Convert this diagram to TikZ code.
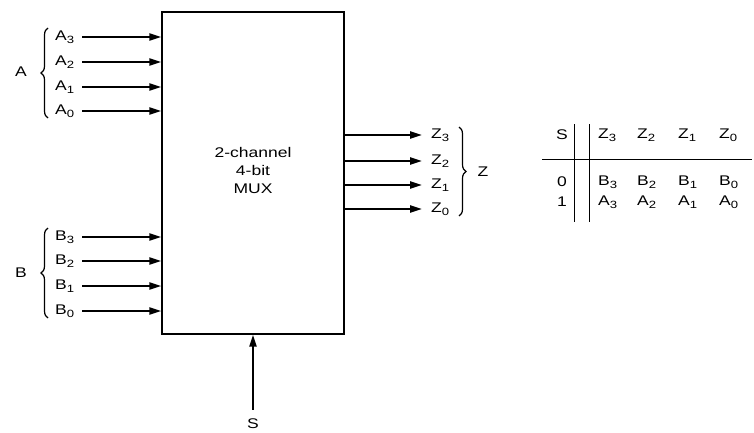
\documentclass[tikz,border=0pt]{standalone}
\usepackage{fontspec}
\setmainfont{Liberation Sans}[FakeStretch=1.25]
\usetikzlibrary{arrows.meta,decorations.pathreplacing}
\newcommand{\sig}[2]{#1\raisebox{-3.5pt}{\fontsize{10.5}{10.5}\selectfont #2}}
\begin{document}
\begin{tikzpicture}[x=1pt,y=-1pt,
  lbl/.style={font=\fontsize{14}{14}\selectfont, inner sep=0pt, anchor=west},
  txt/.style={font=\fontsize{14}{14}\selectfont, inner sep=0pt},
  sigarrow/.style={line width=2.1pt, -{Triangle[length=12pt,width=7pt]}},
  brc/.style={decorate, decoration={brace, amplitude=7pt}, line width=1.2pt},
  tline/.style={line width=0.9pt}]
\useasboundingbox (0,0) rectangle (754,433);
% mux box
\node[draw, line width=1.2pt, minimum width=182pt, minimum height=322pt, inner sep=0pt] (mux) at (253,173) {};
\node[txt, align=center] (muxtxt) at (253,170) {2-channel\\[4pt]4-bit\\[4pt]MUX};
% A inputs
\node[lbl] (a3) at (55,37) {\sig{A}{3}};
\node[lbl] (a2) at (55,62) {\sig{A}{2}};
\node[lbl] (a1) at (55,87) {\sig{A}{1}};
\node[lbl] (a0) at (55,111) {\sig{A}{0}};
\foreach \n in {a3,a2,a1,a0} \draw[sigarrow] ([xshift=8pt]\n.east) -- (mux.west |- \n);
\coordinate (abot) at (48,118);
\coordinate (atop) at (48,28);
\draw[brc] (abot) -- (atop);
\node[txt] (A) at (21,72) {A};
% B inputs
\node[lbl] (b3) at (55,237) {\sig{B}{3}};
\node[lbl] (b2) at (55,261) {\sig{B}{2}};
\node[lbl] (b1) at (55,286) {\sig{B}{1}};
\node[lbl] (b0) at (55,311) {\sig{B}{0}};
\foreach \n in {b3,b2,b1,b0} \draw[sigarrow] ([xshift=8pt]\n.east) -- (mux.west |- \n);
\coordinate (bbot) at (48,318);
\coordinate (btop) at (48,228);
\draw[brc] (bbot) -- (btop);
\node[txt] (B) at (21,273) {B};
% Z outputs
\node[lbl] (z3) at (431,135) {\sig{Z}{3}};
\node[lbl] (z2) at (431,161) {\sig{Z}{2}};
\node[lbl] (z1) at (431,185) {\sig{Z}{1}};
\node[lbl] (z0) at (431,209) {\sig{Z}{0}};
\foreach \n in {z3,z2,z1,z0} \draw[sigarrow] (mux.east |- \n) -- ([xshift=-9pt]\n.west);
\coordinate (ztop) at (459,127);
\coordinate (zbot) at (459,216);
\draw[brc] (ztop) -- (zbot);
\node[txt] (Z) at (483,172) {Z};
% S input
\node[txt] (S) at (253,424) {S};
\draw[sigarrow] ([yshift=9pt]S.north) -- (mux.south -| S);
% table
\node[txt] (th) at (562,135) {S};
\node[txt] (t0) at (562,182) {0};
\node[txt] (t1) at (562,202) {1};
\node[lbl] (hz3) at (598,135) {\sig{Z}{3}};
\node[lbl] (hz2) at (637,135) {\sig{Z}{2}};
\node[lbl] (hz1) at (678,135) {\sig{Z}{1}};
\node[lbl] (hz0) at (719,135) {\sig{Z}{0}};
\node[lbl] (rb3) at (598,182) {\sig{B}{3}};
\node[lbl] (rb2) at (637,182) {\sig{B}{2}};
\node[lbl] (rb1) at (678,182) {\sig{B}{1}};
\node[lbl] (rb0) at (719,182) {\sig{B}{0}};
\node[lbl] (ra3) at (598,202) {\sig{A}{3}};
\node[lbl] (ra2) at (637,202) {\sig{A}{2}};
\node[lbl] (ra1) at (678,202) {\sig{A}{1}};
\node[lbl] (ra0) at (719,202) {\sig{A}{0}};
\coordinate (v1t) at (574,124);
\coordinate (v1b) at (574,222);
\coordinate (v2t) at (589,124);
\coordinate (v2b) at (589,222);
\coordinate (hl) at (542,159);
\coordinate (hr) at (752,159);
\draw[tline] (v1t) -- (v1b);
\draw[tline] (v2t) -- (v2b);
\draw[tline] (hl) -- (hr);
\end{tikzpicture}
\end{document}
